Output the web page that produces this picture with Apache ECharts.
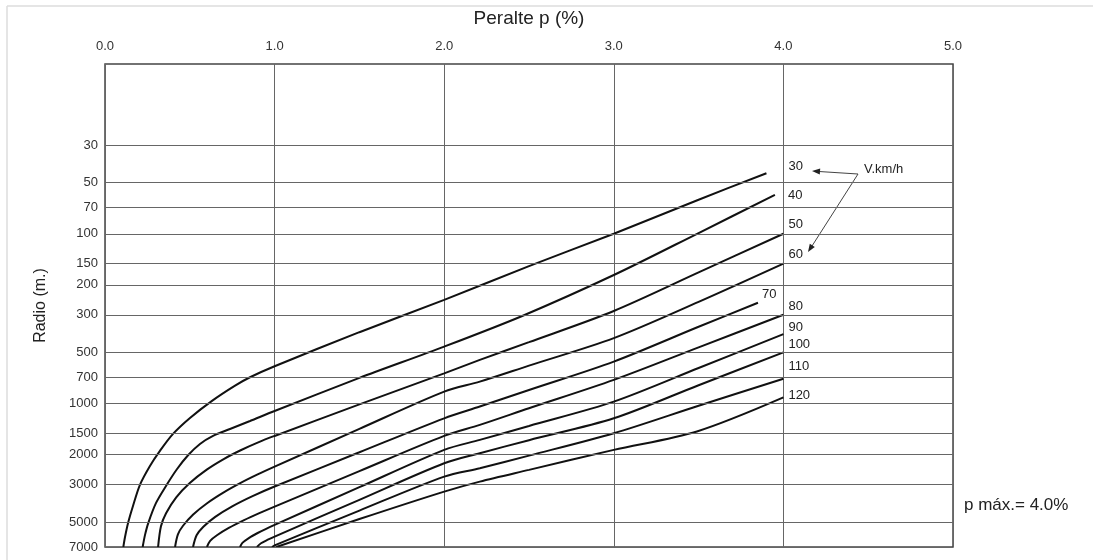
<!DOCTYPE html>
<html>
<head>
<meta charset="utf-8">
<script src="https://cdn.jsdelivr.net/npm/echarts@6/dist/echarts.min.js"></script>
<style>
html,body{margin:0;padding:0;background:#fff;}
#chart{width:1093px;height:560px;}
</style>
</head>
<body>
<div id="chart"></div>
<script>
// Velocidades (km/h)
const speeds = [30, 40, 50, 60, 70, 80, 90, 100, 110, 120];
// Marcas del eje de radios (m)
const radiusTicks = [30, 50, 70, 100, 150, 200, 300, 500, 700, 1000, 1500, 2000, 3000, 5000, 7000];

// Curvas [peralte %, radio m]
const v30 = [[0.108,7000],[0.118,6110],[0.136,5050],[0.165,4010],[0.206,3010],[0.265,2330],[0.324,1900],[0.401,1510],[0.501,1216],[0.631,964],[0.767,784],[0.855,700],[1.0,603],[1.5,380],[2.0,245],[2.5,155],[3.0,100],[3.5,63],[3.9,44]];
const v40 = [[0.222,7000],[0.236,5940],[0.255,5060],[0.301,3850],[0.364,3010],[0.425,2430],[0.491,2010],[0.56,1730],[0.637,1550],[0.737,1413],[0.855,1268],[1.0,1107],[1.5,706],[2.0,462],[2.46,305],[3.0,175],[3.5,99],[3.95,59]];
const v50 = [[0.313,7000],[0.33,5280],[0.36,4425],[0.42,3566],[0.5,2936],[0.6,2450],[0.7,2123],[0.8,1884],[0.9,1699],[1.0,1552],[1.5,1012],[2.0,664],[2.21,553],[2.5,435],[3.0,285],[3.5,169],[4.0,100]];
const v60 = [[0.413,7000],[0.43,5895],[0.46,5248],[0.52,4504],[0.6,3878],[0.7,3337],[0.8,2934],[0.9,2616],[1.0,2354],[1.5,1410],[2.0,851],[2.21,743],[2.5,598],[3.0,412],[3.5,252],[4.0,150]];
const v70 = [[0.519,7000],[0.54,5970],[0.58,5317],[0.65,4648],[0.75,4029],[0.87,3507],[1.0,3080],[1.5,1937],[2.0,1222],[2.21,1042],[2.5,832],[3.0,566],[3.5,353],[3.85,255]];
const v80 = [[0.601,7000],[0.62,6447],[0.66,5972],[0.73,5409],[0.82,4864],[0.91,4423],[1.0,4045],[1.5,2500],[2.0,1550],[2.21,1336],[2.5,1066],[3.0,726],[3.5,467],[4.0,300]];
const v90 = [[0.796,7000],[0.81,6622],[0.85,6180],[0.9,5789],[0.95,5470],[1.0,5190],[1.5,3110],[2.0,1874],[2.21,1637],[2.5,1355],[3.0,975],[3.5,618],[4.0,390]];
const v100 = [[0.896,7000],[0.92,6653],[0.96,6340],[1.0,6080],[1.5,3690],[2.0,2247],[2.21,1962],[2.5,1644],[3.0,1222],[3.5,780],[4.0,500]];
const v110 = [[0.985,7000],[1.0,6850],[1.5,4270],[2.0,2694],[2.21,2405],[2.5,2027],[3.0,1496],[3.5,1030],[4.0,715]];
const v120 = [[1.01,7000],[1.5,4790],[2.0,3302],[2.21,2883],[2.5,2460],[3.0,1875],[3.49,1460],[4.0,920]];

const curves = [v30, v40, v50, v60, v70, v80, v90, v100, v110, v120];
// desplazamiento de cada etiqueta respecto al extremo de su curva (px)
const labelOffsets = [[22,-7],[13,1],[5,-9],[5,-9],[4,-8],[5,-8],[5,-7],[5,-8],[5,-12],[5,-2]];

const FONT = '"Liberation Sans", Arial, Helvetica, sans-serif';

const chart = echarts.init(document.getElementById('chart'), null, {renderer: 'canvas'});

const series = curves.map((d, i) => ({
  type: 'line',
  name: String(speeds[i]),
  data: d,
  symbol: 'none',
  smooth: 0.3,
  z: 3,
  silent: true,
  animation: false,
  lineStyle: {color: '#111', width: 2},
  endLabel: {
    show: true,
    formatter: String(speeds[i]),
    distance: 0,
    offset: labelOffsets[i],
    color: '#222',
    fontSize: 13,
    fontFamily: FONT
  }
}));

series.unshift({
  type: 'line',
  data: [],
  z: 1,
  silent: true,
  animation: false,
  markLine: {
    silent: true,
    animation: false,
    symbol: ['none', 'none'],
    lineStyle: {color: '#666', width: 1, type: 'solid'},
    emphasis: {disabled: true},
    label: {
      show: true,
      position: 'start',
      distance: 7,
      formatter: p => String(p.value),
      color: '#333',
      fontSize: 13,
      fontFamily: FONT
    },
    data: radiusTicks.map(v => ({yAxis: v}))
  }
});

const option = {
  backgroundColor: '#fff',
  animation: false,
  grid: {left: 105, right: 140, top: 64, bottom: 13, show: true, borderColor: '#444', borderWidth: 1.5, containLabel: false},
  xAxis: {
    type: 'value',
    position: 'top',
    min: 0, max: 5, interval: 1,
    axisLine: {show: false},
    axisTick: {show: false},
    axisLabel: {formatter: v => v.toFixed(1), color: '#333', fontSize: 13, margin: 11, fontFamily: FONT},
    splitLine: {show: true, lineStyle: {color: '#666', width: 1}},
    name: 'Peralte p (%)',
    nameLocation: 'middle',
    nameGap: 36,
    nameTextStyle: {fontSize: 19, color: '#222', fontFamily: FONT}
  },
  yAxis: {
    type: 'log',
    logBase: 10,
    min: 10, max: 7000,
    inverse: true,
    axisLine: {show: false},
    axisTick: {show: false},
    axisLabel: {show: false},
    splitLine: {show: false},
    name: 'Radio (m.)',
    nameLocation: 'middle',
    nameGap: 56,
    nameTextStyle: {fontSize: 16, color: '#222', fontFamily: FONT}
  },
  series: series,
  graphic: [
    {type: 'line', silent: true, shape: {x1: 7, y1: 6, x2: 1093, y2: 6}, style: {stroke: '#ddd', lineWidth: 1.5}},
    {type: 'line', silent: true, shape: {x1: 7, y1: 6, x2: 7, y2: 560}, style: {stroke: '#ddd', lineWidth: 1.5}},
    {type: 'text', silent: true, x: 864, y: 169, style: {text: 'V.km/h', fill: '#222', font: '13px ' + FONT, textVerticalAlign: 'middle'}},
    {type: 'line', silent: true, shape: {x1: 858, y1: 174, x2: 819, y2: 171.5}, style: {stroke: '#444', lineWidth: 1}},
    {type: 'polygon', silent: true, shape: {points: [[812, 171], [820.2, 168.5], [819.8, 174.5]]}, style: {fill: '#222'}},
    {type: 'line', silent: true, shape: {x1: 858, y1: 174, x2: 812, y2: 246}, style: {stroke: '#444', lineWidth: 1}},
    {type: 'polygon', silent: true, shape: {points: [[808, 252], [814.8, 246.9], [809.8, 243.7]]}, style: {fill: '#222'}},
    {type: 'text', silent: true, x: 964, y: 505, style: {text: 'p máx.= 4.0%', fill: '#222', font: '17px ' + FONT, textVerticalAlign: 'middle'}}
  ]
};
chart.setOption(option);
</script>
</body>
</html>
